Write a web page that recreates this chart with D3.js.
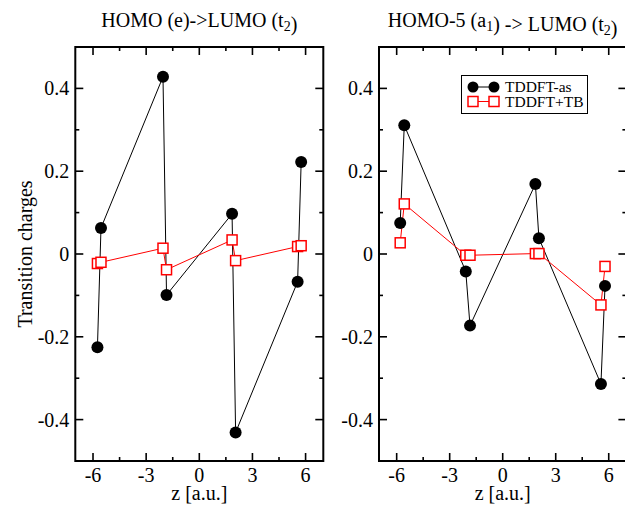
<!DOCTYPE html>
<html>
<head>
<meta charset="utf-8">
<script src="https://cdn.jsdelivr.net/npm/d3@7"></script>
<style>
  body { margin: 0; background: #fff; }
  svg { font-family: "Liberation Serif", "Times New Roman", serif; }
</style>
</head>
<body>
<div id="chart"></div>
<script>
// panel data
const zLeft = [-5.75, -5.55, -2.05, -1.85, 1.85, 2.05, 5.55, 5.75];
const asLeft = [-0.225, 0.063, 0.428, -0.099, 0.097, -0.431, -0.067, 0.222];
const tbLeft = [-0.023, -0.020, 0.014, -0.038, 0.034, -0.016, 0.018, 0.020];

const zRight = [-5.8, -5.57, -2.09, -1.85, 1.85, 2.05, 5.56, 5.79];
const asRight = [0.075, 0.311, -0.042, -0.173, 0.169, 0.038, -0.314, -0.077];
const tbRight = [0.027, 0.121, -0.003, -0.003, 0.001, 0.001, -0.123, -0.030];

const xTicks = [-6, -3, 0, 3, 6];
const yTicks = [-0.4, -0.2, 0, 0.2, 0.4];
const seriesNames = ["TDDFT-as", "TDDFT+TB"];

const width = 625, height = 506;
const svg = d3.select("#chart").append("svg")
    .attr("width", width)
    .attr("height", height);

const plotTop = 47, plotBottom = 461;
const fs = 20;

const y = d3.scaleLinear().domain([-0.5, 0.5]).range([plotBottom, plotTop]);

// plain hyphen for negatives, like the original
const fmtX = d => String(d);
const fmtY = d => d === 0 ? "0" : (d < 0 ? "-" : "") + Math.abs(d).toFixed(1);

function drawPanel(x0, x1, z, as, tb, title) {
    const x = d3.scaleLinear().domain([-7, 7]).range([x0, x1]);
    const g = svg.append("g");

    // ticks on all four sides, pointing inwards
    const xMinor = d3.range(-6, 6.01, 1.5);
    const yMinor = d3.range(-0.5, 0.501, 0.1);
    xMinor.forEach(function(t) {
        const major = Math.abs(t % 3) < 1e-6;
        const len = major ? 8 : 4;
        g.append("line").attr("x1", x(t)).attr("x2", x(t)).attr("y1", plotBottom).attr("y2", plotBottom - len);
        g.append("line").attr("x1", x(t)).attr("x2", x(t)).attr("y1", plotTop).attr("y2", plotTop + len);
    });
    yMinor.forEach(function(t) {
        const major = Math.abs(Math.round(t * 10) % 2) === 0;
        const len = major ? 8 : 4;
        g.append("line").attr("x1", x0).attr("x2", x0 + len).attr("y1", y(t)).attr("y2", y(t));
        g.append("line").attr("x1", x1).attr("x2", x1 - len).attr("y1", y(t)).attr("y2", y(t));
    });
    g.selectAll("line").attr("stroke", "#000").attr("stroke-width", 1.6);

    g.append("rect")
        .attr("x", x0).attr("y", plotTop)
        .attr("width", x1 - x0).attr("height", plotBottom - plotTop)
        .attr("fill", "none").attr("stroke", "#000").attr("stroke-width", 2);

    // tick labels
    g.selectAll(".xt").data(xTicks).enter().append("text")
        .attr("x", d => x(d)).attr("y", 481.5)
        .attr("text-anchor", "middle").attr("font-size", fs)
        .text(fmtX);
    g.selectAll(".yt").data(yTicks).enter().append("text")
        .attr("x", x0 - 6).attr("y", d => y(d)).attr("dy", "0.35em")
        .attr("text-anchor", "end").attr("font-size", fs)
        .text(fmtY);

    g.append("text")
        .attr("x", x(0)).attr("y", 500)
        .attr("text-anchor", "middle").attr("font-size", fs)
        .text("z [a.u.]");

    // title with subscripts
    const t = g.append("text")
        .attr("x", x(0)).attr("y", 27)
        .attr("text-anchor", "middle").attr("font-size", fs);
    title.forEach(function(part) {
        if (part.sub) {
            t.append("tspan").attr("dy", 4).attr("font-size", 14).text(part.sub);
            t.append("tspan").attr("dy", -4).text("");
        } else {
            t.append("tspan").text(part.txt);
        }
    });

    const pts = z.map((d, i) => [d, as[i]]);
    const pts2 = z.map((d, i) => [d, tb[i]]);
    const line = d3.line().x(d => x(d[0])).y(d => y(d[1]));

    g.append("path").attr("d", line(pts))
        .attr("fill", "none").attr("stroke", "#000").attr("stroke-width", 1);
    g.append("path").attr("d", line(pts2))
        .attr("fill", "none").attr("stroke", "#f00").attr("stroke-width", 1);

    g.selectAll(".dot").data(pts).enter().append("circle")
        .attr("cx", d => x(d[0])).attr("cy", d => y(d[1])).attr("r", 6)
        .attr("fill", "#000");
    g.selectAll(".sq").data(pts2).enter().append("rect")
        .attr("x", d => x(d[0]) - 5).attr("y", d => y(d[1]) - 5)
        .attr("width", 10).attr("height", 10)
        .attr("fill", "#fff").attr("stroke", "#f00").attr("stroke-width", 1.5);

    return x;
}

drawPanel(75.3, 323.3, zLeft, asLeft, tbLeft,
    [{txt: "HOMO (e)->LUMO (t"}, {sub: "2"}, {txt: ")"}]);
drawPanel(379, 626.4, zRight, asRight, tbRight,
    [{txt: "HOMO-5 (a"}, {sub: "1"}, {txt: ") -> LUMO (t"}, {sub: "2"}, {txt: ")"}]);

// y axis label
svg.append("text")
    .attr("transform", "translate(32,254) rotate(-90)")
    .attr("text-anchor", "middle").attr("font-size", fs)
    .text("Transition charges");

// legend
const lg = svg.append("g");
lg.append("rect").attr("x", 461.5).attr("y", 75.5).attr("width", 126).attr("height", 38)
    .attr("fill", "#fff").attr("stroke", "#000").attr("stroke-width", 1);
const rows = [87, 101.5];
lg.append("line").attr("x1", 473).attr("x2", 494).attr("y1", rows[0]).attr("y2", rows[0]).attr("stroke", "#000");
lg.append("line").attr("x1", 473).attr("x2", 494).attr("y1", rows[1]).attr("y2", rows[1]).attr("stroke", "#f00");
[473, 494].forEach(function(cx) {
    lg.append("circle").attr("cx", cx).attr("cy", rows[0]).attr("r", 5.5).attr("fill", "#000");
    lg.append("rect").attr("x", cx - 5).attr("y", rows[1] - 5).attr("width", 10).attr("height", 10)
        .attr("fill", "#fff").attr("stroke", "#f00").attr("stroke-width", 1.5);
});
lg.selectAll(".lt").data(seriesNames).enter().append("text")
    .attr("x", 505).attr("y", (d, i) => rows[i]).attr("dy", "0.35em")
    .attr("font-size", 15.5).text(d => d);
</script>
</body>
</html>
